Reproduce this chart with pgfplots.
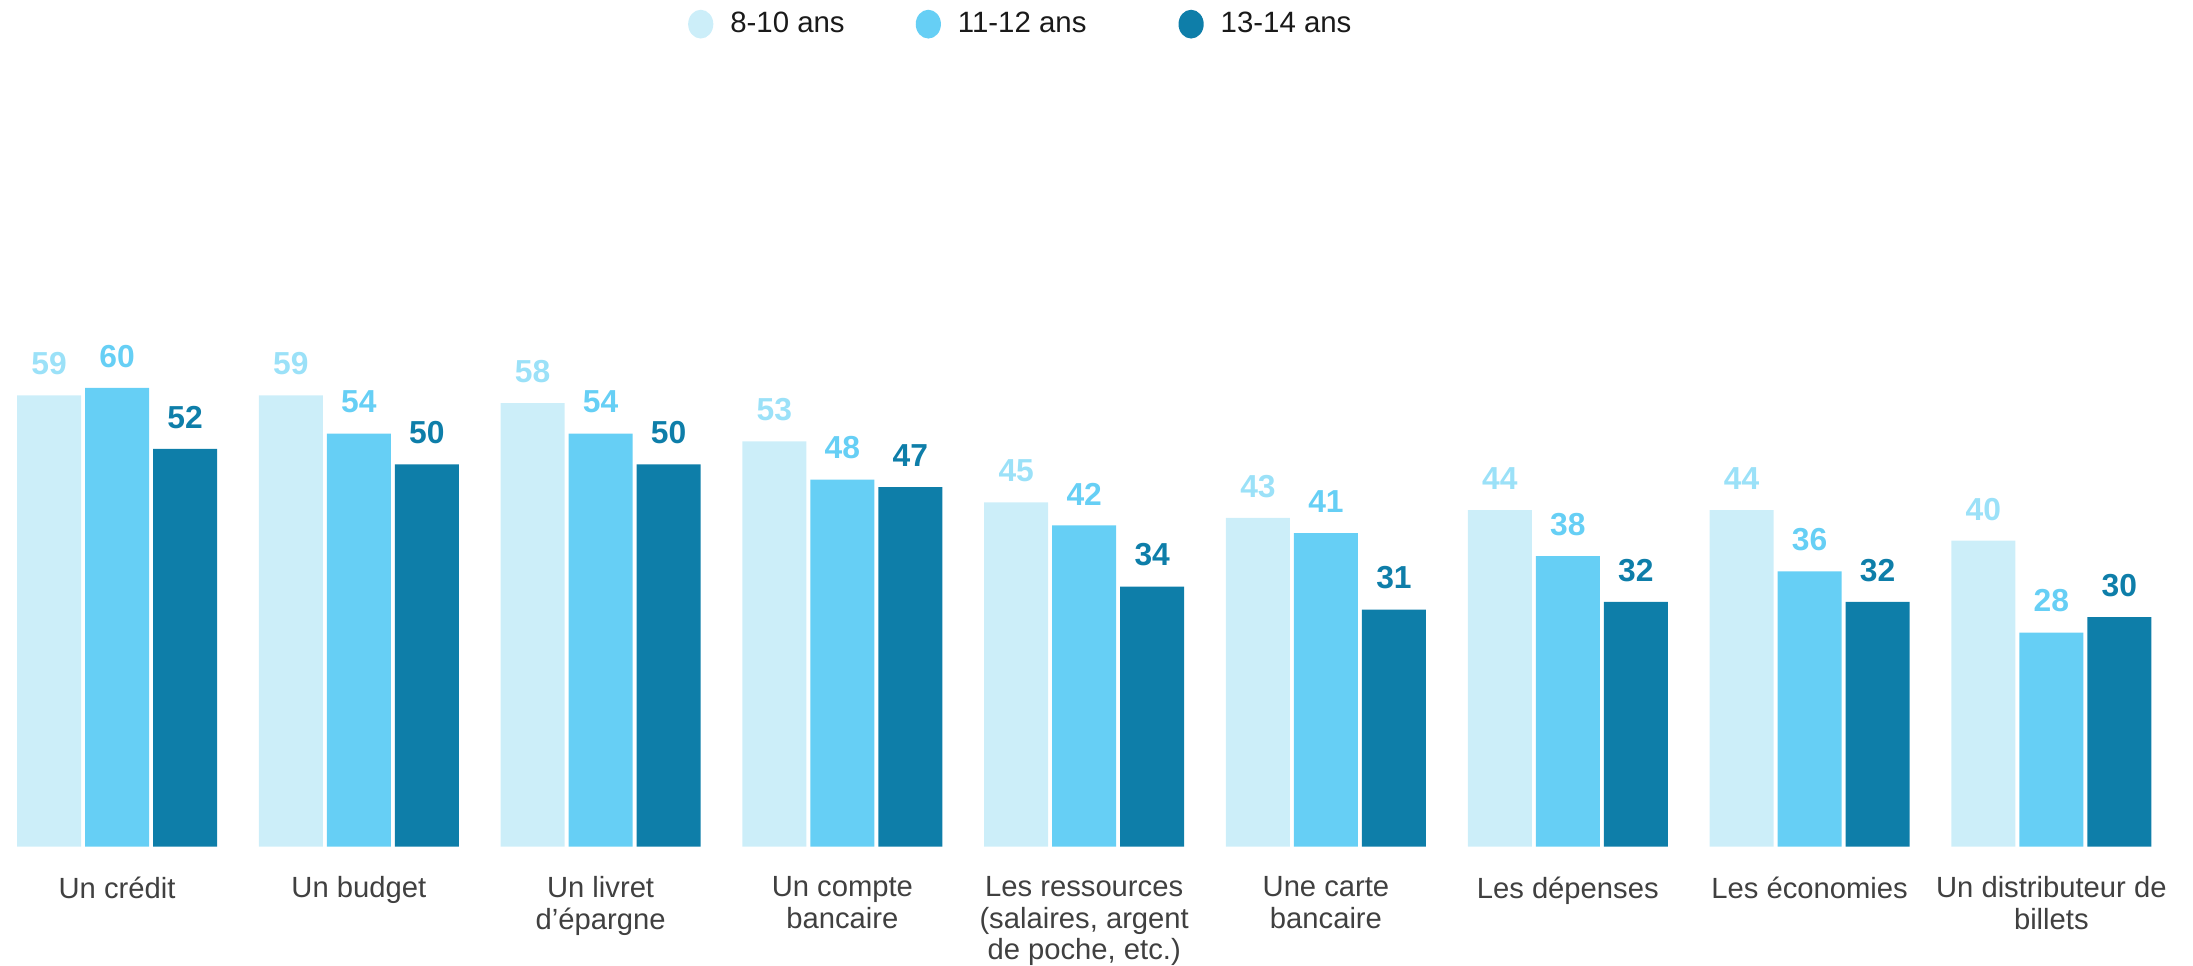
\documentclass[border=0pt]{standalone}
\usepackage{fontspec}
\setmainfont{Liberation Sans}
\usepackage{pgfplots}
\pgfplotsset{compat=1.18}
\definecolor{cA}{HTML}{CCEEF9}
\definecolor{cB}{HTML}{66CFF5}
\definecolor{cC}{HTML}{0E7EA9}
\definecolor{lA}{HTML}{9BE1F8}
\definecolor{txt}{HTML}{404040}
\definecolor{leg}{HTML}{1A1A1A}
\begin{document}
\begin{tikzpicture}
\begin{axis}[
  scale only axis, width=1096.5pt, height=423.35pt,
  xmin=-0.484, xmax=8.586, ymin=0, ymax=110.7,
  clip=false,
  ybar=2pt, bar width=32pt,
  axis line style={draw=none}, tick style={draw=none},
  ytick=\empty,
  xtick={0,1,2,3,4,5,6,7,8},
  xticklabels={{Un crédit},{Un budget},{Un livret\\d'épargne},{Un compte\\bancaire},{Les ressources\\(salaires, argent\\de poche, etc.)},{Une carte\\bancaire},{Les dépenses},{Les économies},{Un distributeur de\\billets}},
  xticklabel style={align=center, font=\fontsize{14.6}{15.8}\selectfont, text=txt, anchor=north, inner sep=0pt, yshift=-10.5pt},
  /pgf/number format/assume math mode=true,
  nodes near coords,
  nodes near coords style={font=\fontsize{15.9}{16}\selectfont\bfseries, anchor=south, inner sep=0pt, yshift=10pt},
  legend columns=3,
  legend image code/.code={\fill[#1] (0pt,0pt) ellipse (6.3pt and 7.2pt);},
  legend style={draw=none, fill=none, at={(0.3136,1)}, anchor=north west, inner sep=0pt, yshift=-4pt,
    font=\fontsize{14.7}{16}\selectfont, text=leg,
    /tikz/every odd column/.append style={column sep=6.5pt},
    /tikz/column 2/.style={column sep=33.5pt},
    /tikz/column 4/.style={column sep=44pt}},
]
\addplot[fill=cA, draw=none, every node near coord/.append style={text=lA}] coordinates {(0,59) (1,59) (2,58) (3,53) (4,45) (5,43) (6,44) (7,44) (8,40)};
\addplot[fill=cB, draw=none, every node near coord/.append style={text=cB}] coordinates {(0,60) (1,54) (2,54) (3,48) (4,42) (5,41) (6,38) (7,36) (8,28)};
\addplot[fill=cC, draw=none, every node near coord/.append style={text=cC}] coordinates {(0,52) (1,50) (2,50) (3,47) (4,34) (5,31) (6,32) (7,32) (8,30)};
\legend{8-10 ans, 11-12 ans, 13-14 ans}
\coordinate (BL) at (axis cs:-0.484,-15.6);
\coordinate (TR) at (axis cs:8.586,110.7);
\end{axis}
\pgfresetboundingbox
\path[use as bounding box] (BL) rectangle (TR);
\end{tikzpicture}
\end{document}
